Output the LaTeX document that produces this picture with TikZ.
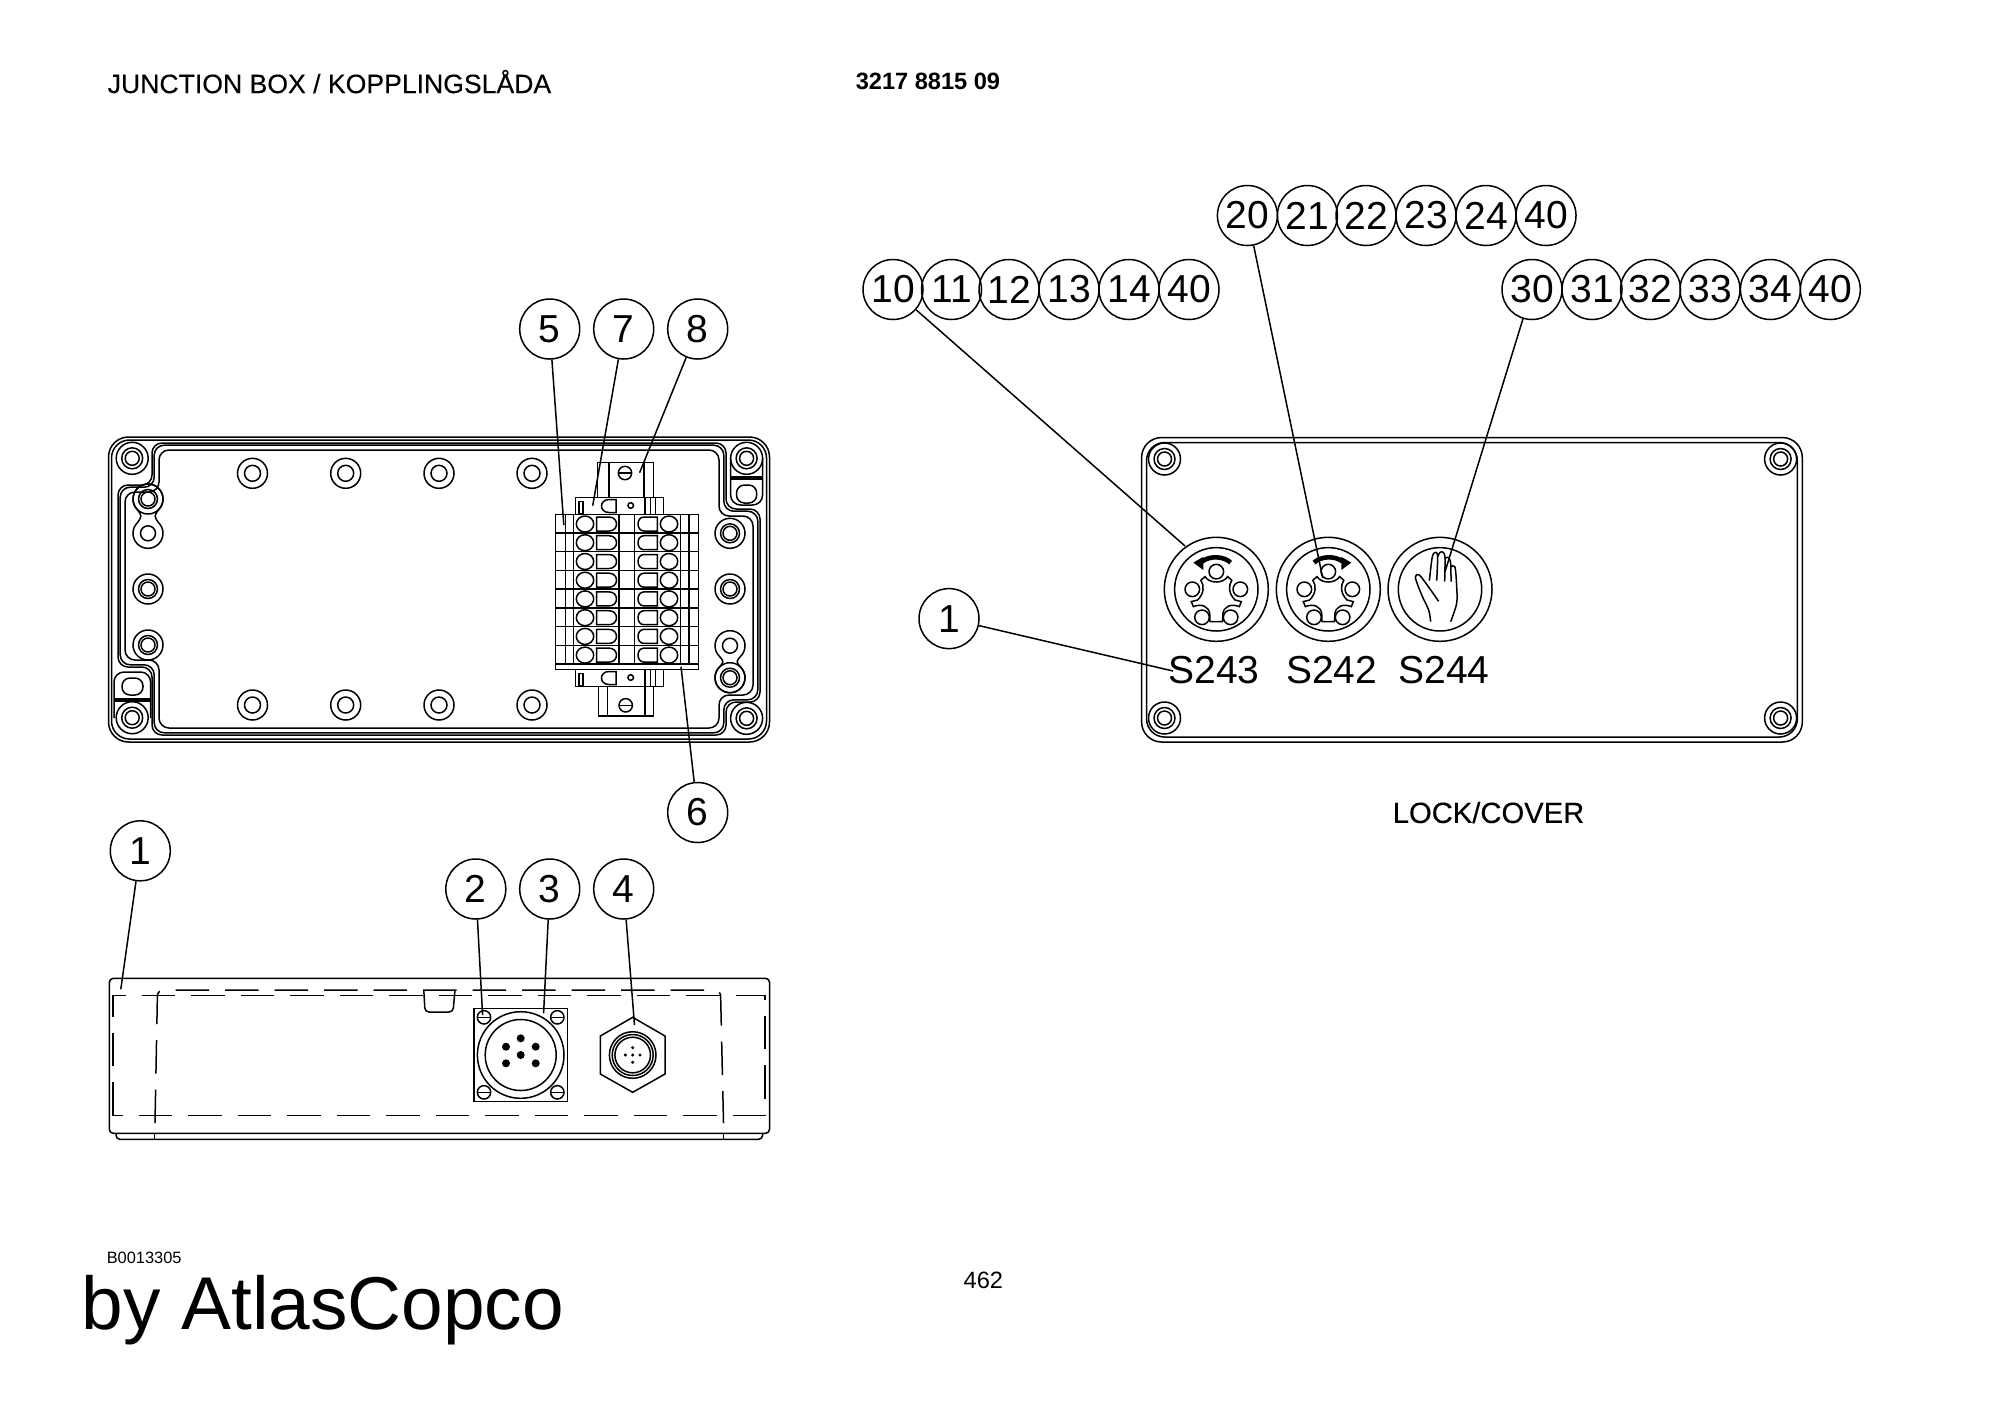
\documentclass[tikz,border=0pt]{standalone}
\usepackage{fontspec}
\setmainfont{Liberation Sans}
\newfontfamily\headfont[FakeBold=.25]{Liberation Sans}
\usetikzlibrary{positioning}
\newcommand{\gasket}[1]{%
\draw[rounded corners=5pt] (152+#1,443+#1)--(726-#1,443+#1)--(726-#1,509+#1)--(760-#1,509+#1)--(760-#1,702-#1)--(726-#1,702-#1)--(726-#1,735-#1)--(152+#1,735-#1)--(152+#1,667-#1)--(118+#1,667-#1)--(118+#1,485+#1)--(152+#1,485+#1)--cycle;}
\newcommand{\figeight}[3]{%
\draw (#1+10.6,#3-10.6) arc (-45:225:15) .. controls (#1-6,#3/2+#2/2) .. (#1-10.6,#2+10.6) arc (135:405:15) .. controls (#1+6,#3/2+#2/2) .. cycle;}
\tikzset{
callout/.style={draw,circle,minimum size=30pt,inner sep=0pt,font=\fontsize{19.5}{22}\selectfont},
dashline/.style={dash pattern=on 16.75pt off 8pt},
boss/.pic={\draw (0,0) circle[radius=15]; \draw (0,0) circle[radius=8];},
bossring/.pic={\draw (0,0) circle[radius=15]; \draw (0,0) circle[radius=9.5]; \draw (0,0) circle[radius=7];},
cornerboss/.pic={\draw (0,0) circle[radius=16]; \draw (0,0) circle[radius=10.5]; \draw (0,0) circle[radius=7];},
slotscrew/.pic={\draw (0,0) circle[radius=6.7]; \draw (-6.7,0)--(6.7,0);},
termrow/.pic={
\draw (585,0) circle[x radius=8.7,y radius=8];
\draw (669,0) circle[x radius=8.7,y radius=8];
\draw (596.7,-7)--(609,-7) .. controls (619,-7) and (619,7) .. (609,7)--(596.7,7)--cycle;
\draw (657.3,-7)--(644,-7) .. controls (636,-7) and (636,7) .. (644,7)--(657.3,7)--cycle;},
bracket/.pic={
\draw (575.7,0) rectangle (663.3,17);
\draw (579,4)--(579,16)--(583,16)--(583,4)--cycle;
\draw (616,2)--(609,2) .. controls (599,2) and (599,15) .. (609,15)--(616,15)--cycle;
\draw (630.7,8) circle[radius=2.8];
\draw (645,0)--(645,17);
\draw (650.7,0)--(650.7,17);
\draw (655.7,0)--(655.7,17);},
camknob/.pic={
\draw (0,0) circle[radius=52];
\draw (0,0) circle[radius=41.7];
\foreach \dx/\dy in {0/-17.7,-24/0,24/0,-14.3/28,14.3/28} {\draw (\dx,\dy) circle[radius=7.3];}
\draw (-11.3,-12.7) .. controls (-7,-5.5) and (7,-5.5) .. (11.3,-12.7)--(15.5,-9) .. controls (12,-4) and (12,4) .. (18.7,10.7)--(25,12.3)--(23,17.3) .. controls (15,14) and (7,17) .. (6.5,25)--(6.3,32.3)--(-6.3,32.3)--(-6.5,25) .. controls (-7,17) and (-15,14) .. (-23,17.3)--(-25,12.3)--(-18.7,10.7) .. controls (-12,4) and (-12,-4) .. (-15.5,-9)--cycle;
\draw[line width=2.3pt] (14.3,-26.7) .. controls (8,-33) and (-6,-34) .. (-14,-28);
\fill (-23,-26.7)--(-13,-32.5)--(-13,-19.3)--cycle;},
}
\begin{document}
\begin{tikzpicture}[x=.5pt,y=-.5pt,line width=.75pt]%
\useasboundingbox (0,0) rectangle (2000,1415);
%% titles
\node[anchor=west,inner sep=0pt,font=\headfont\fontsize{13.3}{15}\selectfont] (title) at (107,81.6) {JUNCTION BOX / KOPPLINGSLÅDA}; %%
\node[anchor=west,inner sep=0pt,font=\bfseries\fontsize{11.8}{14}\selectfont] (partno) at (855,81.6) {3217 8815 09}; %%
\node[inner sep=0pt,font=\headfont\fontsize{14.6}{17}\selectfont] (lockcover) at (1488.5,812.5) {LOCK/COVER}; %%
\node[anchor=west,inner sep=0pt,font=\fontsize{8.2}{10}\selectfont] (drawno) at (106,1257.6) {B0013305}; %%
\node[anchor=west,inner sep=0pt,font=\fontsize{37.4}{42}\selectfont] (byline) at (81,1310) {by AtlasCopco}; %%
\node[inner sep=0pt,font=\fontsize{11.8}{14}\selectfont] (pageno) at (983.4,1280.6) {462}; %%
%% box seen from the front
\draw[rounded corners=10pt] (108.5,437) rectangle (769.5,742);
\draw[rounded corners=9pt] (111.5,440) rectangle (766.5,739);
\gasket{0}
\gasket{2.2}
\gasket{7}
\pic at (132.2,458.3) {cornerboss};
\pic at (746.6,458.3) {cornerboss};
\pic at (132.2,717.7) {cornerboss};
\pic at (746.6,718.3) {cornerboss};
\pic at (252.5,473.3) {boss};
\pic at (345.7,473.3) {boss};
\pic at (439,473.3) {boss};
\pic at (532,473.3) {boss};
\pic at (252.5,705) {boss};
\pic at (345.7,705) {boss};
\pic at (439,705) {boss};
\pic at (532,705) {boss};
\pic at (148,499) {bossring};
\figeight{148}{499}{533.3}
\draw (148,533.3) circle[radius=7.5];
\pic at (148,589) {bossring};
\pic at (148,645) {bossring};
\pic at (730,533.3) {bossring};
\pic at (730,589) {bossring};
\figeight{730}{645.7}{677.7}
\draw (730,645.7) circle[radius=7.5];
\pic at (730,677.7) {bossring};
%% lobes in two corners
\draw[rounded corners=5pt] (730.6,458)--(730.6,505)--(762.6,505)--(762.6,458);
\draw[line width=1.6pt] (730.6,478)--(762.6,478);
\draw[rounded corners=4pt] (736.5,485) rectangle (756.7,503);
\draw[rounded corners=5pt] (114,718)--(114,672)--(150.6,672)--(150.6,718);
\draw[line width=1.6pt] (114,700)--(150.6,700);
\draw[rounded corners=4pt] (122,678) rectangle (143,695);
%% terminal block
\draw (597.4,498)--(597.4,462.3)--(653.4,462.3)--(653.4,498);
\draw (609,462.3)--(609,498);
\draw (644,462.3)--(644,498);
\pic at (625,473) {slotscrew};
\draw (598.3,686.7)--(598.3,716)--(653.3,716)--(653.3,686.7);
\draw (607.3,686.7)--(607.3,716);
\draw (645,686.7)--(645,716);
\pic at (625.7,705.3) {slotscrew};
\pic at (0,497.5) {bracket};
\pic at (0,669.5) {bracket};
\draw (555.7,514.3) rectangle (698.3,669.3);
\draw (555.7,533)--(698.3,533);
\draw (555.7,551.7)--(698.3,551.7);
\draw (555.7,570.5)--(698.3,570.5);
\draw (555.7,589.2)--(698.3,589.2);
\draw (555.7,608)--(698.3,608);
\draw (555.7,626.7)--(698.3,626.7);
\draw (555.7,645.4)--(698.3,645.4);
\draw (555.7,664)--(698.3,664);
\draw (565.7,514.3)--(565.7,664);
\draw (573.3,514.3)--(573.3,664);
\draw (619,514.3)--(619,664);
\draw (634.7,514.3)--(634.7,664);
\draw (680.7,514.3)--(680.7,664);
\draw (689,514.3)--(689,664);
\pic at (0,524) {termrow};
\pic at (0,542.7) {termrow};
\pic at (0,561.5) {termrow};
\pic at (0,580.2) {termrow};
\pic at (0,598.9) {termrow};
\pic at (0,617.7) {termrow};
\pic at (0,636.4) {termrow};
\pic at (0,655.1) {termrow};
\begin{scope}[font=\fontsize{7}{8}\selectfont,inner sep=0pt,rotate=-90]%
\tikzstyle{every node}=[rotate=-90] %%
\node (d0) at (-524,621) {0}; %%
\node (d1) at (-542.7,621) {1}; %%
\node (d2) at (-561.5,621) {2}; %%
\node (d3) at (-580.2,621) {3}; %%
\node (d4) at (-598.9,621) {4}; %%
\node (d5) at (-617.7,621) {5}; %%
\node (d6) at (-636.4,621) {6}; %%
\node (d7) at (-655.1,621) {7}; %%
\end{scope}
%% box seen from the side
\draw[rounded corners=2pt] (109.3,1133.3)--(109.3,978.3)--(769.5,978.3)--(769.5,1133.3)--cycle;
\draw[rounded corners=2pt] (116,1133.3)--(116,1139.3)--(762.6,1139.3)--(762.6,1133.3);
\draw (154.5,1133.3)--(154.5,1139.3);
\draw (723.5,1133.3)--(723.5,1139.3);
\draw[dashline] (113,1115.7)--(113,995.7)--(765,995.7)--(765,1115.7)--cycle;
\draw[dashline,rounded corners=3pt] (155,1123)--(157.5,990)--(720.5,990)--(723.5,1123);
\draw[rounded corners=2pt] (423.8,990)--(425,1012)--(453,1012)--(455,990);
\draw (474,1008.3) rectangle (567.3,1101.7);
\draw (520.7,1055) circle[radius=43.3];
\draw (520.7,1055) circle[radius=35.5];
\pic at (484,1017.3) {slotscrew};
\pic at (557.3,1017.3) {slotscrew};
\pic at (484,1092.3) {slotscrew};
\pic at (557.3,1092.3) {slotscrew};
\fill (520.7,1055) circle[radius=4];
\fill (520.7,1038.3) circle[radius=4];
\fill (506,1046.7) circle[radius=4];
\fill (535.7,1046.7) circle[radius=4];
\fill (506,1063.3) circle[radius=4];
\fill (535.7,1063.3) circle[radius=4];
\draw (632.7,1017.3)--(665,1036)--(665,1074)--(632.7,1092.3)--(600.3,1074)--(600.3,1036)--cycle;
\draw (632.7,1055) circle[radius=23.3];
\draw (632.7,1055) circle[radius=20.5];
\draw (632.7,1055) circle[radius=17.8];
\fill (632.7,1055) circle[radius=1.7];
\fill (632.7,1047.7) circle[radius=1.7];
\fill (632.7,1062.3) circle[radius=1.7];
\fill (625.4,1055) circle[radius=1.7];
\fill (640,1055) circle[radius=1.7];
%% lid
\draw[rounded corners=10pt] (1141.6,437.5) rectangle (1802.3,742);
\draw[rounded corners=9pt] (1146.6,442.5) rectangle (1797.3,737);
\pic at (1164.5,459) {cornerboss};
\pic at (1780.6,459) {cornerboss};
\pic at (1164.5,718) {cornerboss};
\pic at (1780.6,718) {cornerboss};
\pic at (1216.3,589.3) {camknob};
\pic[xscale=-1] at (1328.3,589.3) {camknob};
\draw (1440,589.3) circle[radius=52];
\draw (1440,589.3) circle[radius=41.7];
\begin{scope}[shift={(1140,520)},scale=1/3]%
\draw plot[smooth] coordinates {(872,305) (866,270) (845,225) (826,172) (838,165) (865,200) (896,244)}; %%
\draw plot[smooth] coordinates {(868,182) (877,110) (887,97) (893,110) (890,182)}; %%
\draw plot[smooth] coordinates {(893,110) (900,97) (910,97) (915,115) (914,185)}; %%
\draw plot[smooth] coordinates {(915,115) (925,112) (932,130) (933,185)}; %%
\draw plot[smooth] coordinates {(932,140) (945,142) (950,200) (950,250) (932,305)}; %%
\end{scope}
\begin{scope}[font=\fontsize{19.5}{22}\selectfont,inner sep=0pt]%
\node (s243) at (1214,670) {S243}; %%
\node (s242) at (1331.7,670) {S242}; %%
\node (s244) at (1444,670) {S244}; %%
\end{scope}
%% free ends of the leaders
\coordinate (p5) at (563.8,525);
\coordinate (p7) at (592.7,505.7);
\coordinate (p8) at (639.6,472.7);
\coordinate (p6) at (681,666.7);
\coordinate (p1) at (120.8,989.3);
\coordinate (p2) at (482.6,1015);
\coordinate (p3) at (543.6,1013.3);
\coordinate (p4) at (634.5,1025);
\coordinate (p10) at (1185,546);
\coordinate (p20) at (1322.7,578);
\coordinate (p30) at (1445,571.7);
\coordinate (pS) at (1173,671);
\begin{scope}[every node/.style={callout}]%
\node (c5) at (549.7,329) {5}; %%
\node (c7) at (623.7,329) {7}; %%
\node (c8) at (697.7,329) {8}; %%
\node (c6) at (697.7,812.5) {6}; %%
\node (c1) at (140.3,850.8) {1}; %%
\node (c2) at (475.8,889) {2}; %%
\node (c3) at (549.7,889) {3}; %%
\node (c4) at (623.7,889) {4}; %%
\node (c1b) at (949,618.6) {1}; %%
\node (c10) at (893,289.5) {10}; %%
\node (c11) at (951.5,289.5) {11}; %%
\node (c12) at (1009,289.5) {12}; %%
\node (c13) at (1069,289.5) {13}; %%
\node (c14) at (1129,289.5) {14}; %%
\node (c40a) at (1189,289.5) {40}; %%
\node (c20) at (1247.4,215.5) {20}; %%
\node (c21) at (1307.4,215.5) {21}; %%
\node (c22) at (1366,215.5) {22}; %%
\node (c23) at (1426,215.5) {23}; %%
\node (c24) at (1486,215.5) {24}; %%
\node (c40b) at (1546,215.5) {40}; %%
\node (c30) at (1532,289.5) {30}; %%
\node (c31) at (1592,289.5) {31}; %%
\node (c32) at (1650.5,289.5) {32}; %%
\node (c33) at (1710,289.5) {33}; %%
\node (c34) at (1770.4,289.5) {34}; %%
\node (c40c) at (1830.3,289.5) {40}; %%
\end{scope}
\draw (c5)--(p5); %%
\draw (c7)--(p7); %%
\draw (c8)--(p8); %%
\draw (c6)--(p6); %%
\draw (c1)--(p1); %%
\draw (c2)--(p2); %%
\draw (c3)--(p3); %%
\draw (c4)--(p4); %%
\draw (c1b)--(pS); %%
\draw (c10)--(p10); %%
\draw (c20)--(p20); %%
\draw (c30)--(p30); %%
\end{tikzpicture}
\end{document}
